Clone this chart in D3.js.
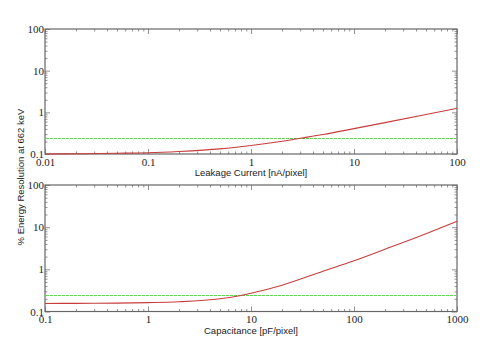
<!DOCTYPE html>
<html>
<head>
<meta charset="utf-8">
<script src="https://cdn.jsdelivr.net/npm/d3@7"></script>
<style>
  body { margin: 0; background: #fff; }
  svg { display: block; }
</style>
</head>
<body>
<svg id="chart"></svg>
<script>
const width = 485;
const height = 340;

// leakage current panel
const leakX = [0.01, 0.02, 0.05, 0.1, 0.2, 0.5, 1, 2, 3, 5, 10, 20, 50, 100];
const leakRes = [0.100, 0.101, 0.104, 0.107, 0.115, 0.133, 0.160, 0.202, 0.238, 0.293, 0.406, 0.566, 0.885, 1.25];

// capacitance panel
const capX = [0.1, 0.2, 0.5, 1, 2, 5, 8, 10, 20, 50, 100, 200, 500, 1000];
const capRes = [0.155, 0.156, 0.158, 0.162, 0.170, 0.200, 0.240, 0.270, 0.42, 0.90, 1.6, 3.0, 7.0, 13.8];

const target = 0.24;   // green reference line
const yTicks = [0.1, 1, 10, 100];
const leakTicks = [0.01, 0.1, 1, 10, 100];
const capTicks = [0.1, 1, 10, 100, 1000];

const svg = d3.select("#chart").attr("width", width).attr("height", height);

function minorTicks(lo, hi) {
    let out = [];
    for (let p = Math.log10(lo); p < Math.log10(hi); p++) {
        for (let k = 2; k <= 9; k++) out.push(k * Math.pow(10, p));
    }
    return out;
}

function panel(top, bottom, xs, ys, xTicks, label) {
    const x = d3.scaleLog().domain([xTicks[0], xTicks[xTicks.length - 1]]).range([45, 457]);
    const y = d3.scaleLog().domain([0.1, 100]).range([bottom, top]);
    const g = svg.append("g");
    const xMin = minorTicks(x.domain()[0], x.domain()[1]);
    const yMin = minorTicks(0.1, 100);
    const fmt = d => d3.format("~g")(d);

    // bottom axis with labels
    g.append("g").attr("transform", `translate(0,${bottom})`)
        .call(d3.axisBottom(x).tickValues(xTicks).tickFormat(fmt).tickSizeInner(-5).tickSizeOuter(0).tickPadding(4));
    g.append("g").attr("transform", `translate(0,${bottom})`)
        .call(d3.axisBottom(x).tickValues(xMin).tickFormat("").tickSizeInner(-2.5).tickSizeOuter(0));
    // top axis ticks
    g.append("g").attr("transform", `translate(0,${top})`)
        .call(d3.axisTop(x).tickValues(xTicks).tickFormat("").tickSizeInner(-5).tickSizeOuter(0));
    g.append("g").attr("transform", `translate(0,${top})`)
        .call(d3.axisTop(x).tickValues(xMin).tickFormat("").tickSizeInner(-2.5).tickSizeOuter(0));
    // left axis
    g.append("g").attr("transform", "translate(45,0)")
        .call(d3.axisLeft(y).tickValues(yTicks).tickFormat(fmt).tickSizeInner(-5).tickSizeOuter(0).tickPadding(1));
    g.append("g").attr("transform", "translate(45,0)")
        .call(d3.axisLeft(y).tickValues(yMin).tickFormat("").tickSizeInner(-2.5).tickSizeOuter(0));
    // right axis
    g.append("g").attr("transform", "translate(457,0)")
        .call(d3.axisRight(y).tickValues(yTicks).tickFormat("").tickSizeInner(-5).tickSizeOuter(0));
    g.append("g").attr("transform", "translate(457,0)")
        .call(d3.axisRight(y).tickValues(yMin).tickFormat("").tickSizeInner(-2.5).tickSizeOuter(0));

    g.selectAll(".domain").remove();
    g.selectAll(".tick line").attr("stroke", "#777").attr("stroke-width", 0.8);
    g.selectAll(".tick text")
        .attr("font-family", "'Liberation Serif', 'DejaVu Serif', serif")
        .attr("font-size", 11)
        .attr("fill", "#222");

    g.append("rect")
        .attr("x", 45).attr("y", top).attr("width", 412).attr("height", bottom - top)
        .attr("fill", "none").attr("stroke", "#666").attr("stroke-width", 1.2);

    // target line
    const ty = Math.round(y(target)) + 0.5;
    g.append("line")
        .attr("x1", 46).attr("x2", 456).attr("y1", ty).attr("y2", ty)
        .attr("stroke", "#5ada4a").attr("stroke-width", 1).attr("stroke-dasharray", "3,1");

    const line = d3.line()
        .x((d, i) => x(xs[i]))
        .y(d => y(d))
        .curve(d3.curveMonotoneX);
    g.append("path")
        .datum(ys)
        .attr("d", line)
        .attr("fill", "none")
        .attr("stroke", "#c83c3c")
        .attr("stroke-width", 1.1);

    g.append("text")
        .attr("x", 251).attr("y", bottom + 22)
        .attr("text-anchor", "middle")
        .attr("font-family", "'Liberation Sans', sans-serif")
        .attr("font-size", 9.5)
        .attr("fill", "#222")
        .text(label);
}

panel(29, 154, leakX, leakRes, leakTicks, "Leakage Current [nA/pixel]");
panel(185, 311.5, capX, capRes, capTicks, "Capacitance [pF/pixel]");

svg.append("text")
    .attr("transform", "translate(24,177) rotate(-90)")
    .attr("text-anchor", "middle")
    .attr("font-family", "'Liberation Sans', sans-serif")
    .attr("font-size", 9.5)
    .attr("fill", "#222")
    .text("% Energy Resolution at 662 keV");
</script>
</body>
</html>
